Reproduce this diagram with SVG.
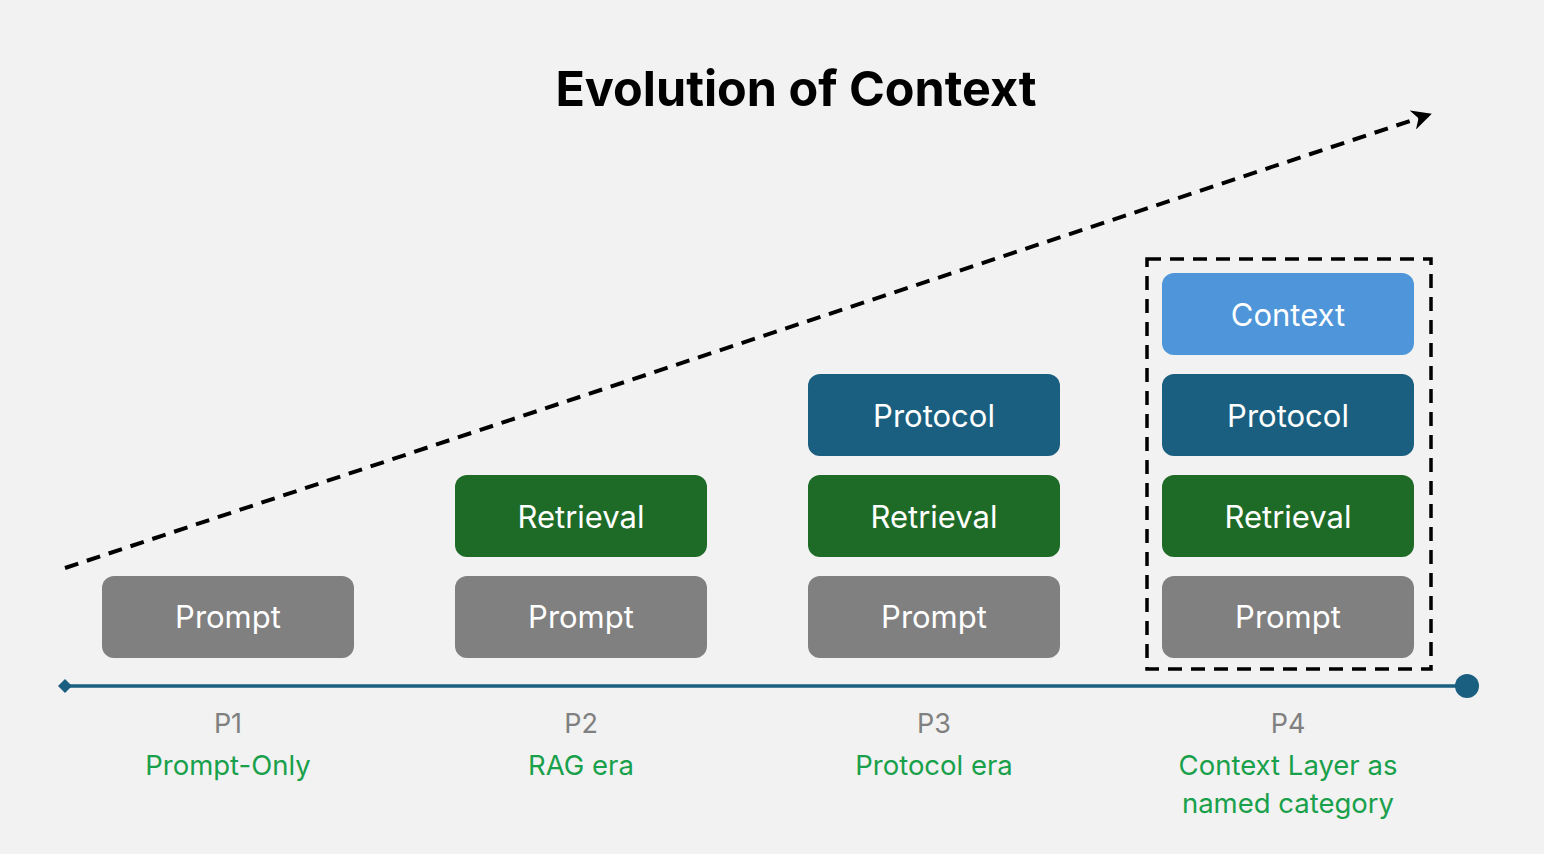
<svg xmlns="http://www.w3.org/2000/svg" width="1544" height="854" viewBox="0 0 1544 854">
<defs>
<style>
.box{stroke:none}
.prompt{fill:#808080}
.retr{fill:#1e6b27}
.proto{fill:#1a5f80}
.ctx{fill:#4e95d9}
.bt{font-family:Inter,"Noto Sans",sans-serif;font-size:31px;fill:#ffffff;text-anchor:middle}
.pl{font-family:Inter,"Noto Sans",sans-serif;font-size:27px;fill:#808080;text-anchor:middle}
.gl{font-family:Inter,"Noto Sans",sans-serif;font-size:27.5px;fill:#19a04b;text-anchor:middle}
</style>
<marker id="ah" viewBox="0 0 10 10" refX="8" refY="5" markerWidth="5" markerHeight="5" orient="auto" markerUnits="strokeWidth">
<path d="M0,0 L10,5 L0,10 L3,5 Z" fill="#000"/>
</marker>
</defs>
<rect width="1544" height="854" fill="#f2f2f2"/>
<text x="796" y="106" font-family="Inter,'Noto Sans',sans-serif" font-size="48.5" font-weight="bold" text-anchor="middle" fill="#000">Evolution of Context</text>
<g id="connectors">
<line x1="65" y1="568" x2="1428" y2="115" stroke="#000" stroke-width="4" stroke-dasharray="14,9" marker-end="url(#ah)"/>
<line x1="65" y1="686" x2="1467" y2="686" stroke="#1a5f80" stroke-width="3.5"/>
<path d="M65,679 L72,686 L65,693 L58,686 Z" fill="#1a5f80"/>
<circle cx="1467" cy="686" r="12" fill="#1a5f80"/>
</g>
<g id="p4-group">
<rect x="1147" y="259" width="284" height="410" fill="none" stroke="#000" stroke-width="3.5" stroke-dasharray="14,9"/>
</g>
<g id="p1-prompt"><rect class="box prompt" x="102" y="576" width="252" height="82" rx="12"/><text class="bt" x="228" y="628">Prompt</text></g>
<g id="p2-retrieval"><rect class="box retr" x="455" y="475" width="252" height="82" rx="12"/><text class="bt" x="581" y="528">Retrieval</text></g>
<g id="p2-prompt"><rect class="box prompt" x="455" y="576" width="252" height="82" rx="12"/><text class="bt" x="581" y="628">Prompt</text></g>
<g id="p3-protocol"><rect class="box proto" x="808" y="374" width="252" height="82" rx="12"/><text class="bt" x="934" y="427">Protocol</text></g>
<g id="p3-retrieval"><rect class="box retr" x="808" y="475" width="252" height="82" rx="12"/><text class="bt" x="934" y="528">Retrieval</text></g>
<g id="p3-prompt"><rect class="box prompt" x="808" y="576" width="252" height="82" rx="12"/><text class="bt" x="934" y="628">Prompt</text></g>
<g id="p4-context"><rect class="box ctx" x="1162" y="273" width="252" height="82" rx="12"/><text class="bt" x="1288" y="326">Context</text></g>
<g id="p4-protocol"><rect class="box proto" x="1162" y="374" width="252" height="82" rx="12"/><text class="bt" x="1288" y="427">Protocol</text></g>
<g id="p4-retrieval"><rect class="box retr" x="1162" y="475" width="252" height="82" rx="12"/><text class="bt" x="1288" y="528">Retrieval</text></g>
<g id="p4-prompt"><rect class="box prompt" x="1162" y="576" width="252" height="82" rx="12"/><text class="bt" x="1288" y="628">Prompt</text></g>
<g id="label-p1"><text class="pl" x="228" y="733">P1</text><text class="gl" x="228" y="775">Prompt-Only</text></g>
<g id="label-p2"><text class="pl" x="581" y="733">P2</text><text class="gl" x="581" y="775">RAG era</text></g>
<g id="label-p3"><text class="pl" x="934" y="733">P3</text><text class="gl" x="934" y="775">Protocol era</text></g>
<g id="label-p4"><text class="pl" x="1288" y="733">P4</text><text class="gl" x="1288" y="775">Context Layer as</text><text class="gl" x="1288" y="813">named category</text></g>
</svg>
